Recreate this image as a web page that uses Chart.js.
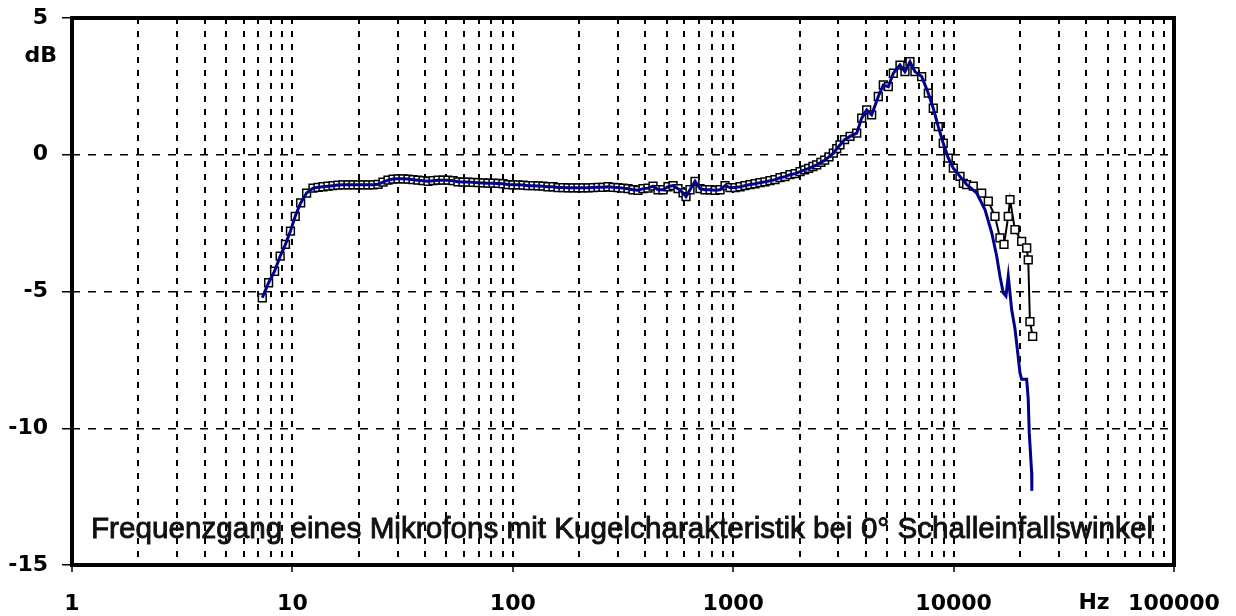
<!DOCTYPE html>
<html><head><meta charset="utf-8">
<script src="https://cdn.jsdelivr.net/npm/chart.js@4/dist/chart.umd.min.js"></script>
<style>html,body{margin:0;padding:0;background:#fff}#wrap{width:1236px;height:616px}</style>
</head><body><div id="wrap"><canvas id="c" width="1236" height="616"></canvas></div>
<script>
// Shared part of both measurements (Hz, dB)
const commonHz = [7.3,7.8,8.3,8.8,9.3,9.8,10.3,10.9,11.6,12.4,13.07,13.77,14.51,15.29,16.1,16.97,17.88,18.83,19.84,20.91,22.03,23.21,24.46,25.77,27.15,28.61,30.14,31.76,33.46,35.26,37.15,39.14,41.23,43.45,45.78,48.23,50.82,53.55,56.42,59.43,62.62,65.98,69.52,73.25,77.18,81.32,85.66,90.27,95.1,100.2,105.6,111.3,117.2,123.5,130.1,137.1,144.4,152.2,160.4,169,178,187.6,197.6,208.2,219.4,231.2,243.6,256.6,270.3,284.9,300.2,316.2,333.2,351.1,369.9,389.7,410.6,432.7,455.9,480.3,506.1,533.3,561.8,592,610.8,636.8,671,707,744.9,784.8,827,871.3,918.1,967.2,1019,1074,1131,1192,1256,1323,1394,1469,1547,1631,1718,1810,1907,2010,2110,2200,2300,2393,2500,2600,2720,2846,2950,3052,3200,3389,3634,3828,4033,4249,4553,4799,5057,5327,5711,6016,6339,6677,7164,7677,8087,8522,8977,9460,9970,10690];
const commonDb = [-5.23,-4.68,-4.26,-3.71,-3.28,-2.79,-2.25,-1.76,-1.4,-1.22,-1.19,-1.17,-1.15,-1.13,-1.11,-1.1,-1.1,-1.1,-1.1,-1.1,-1.1,-1.1,-1.08,-1,-0.93,-0.89,-0.88,-0.88,-0.89,-0.91,-0.93,-0.95,-0.97,-0.95,-0.93,-0.93,-0.93,-0.95,-0.99,-1,-1,-1.01,-1.02,-1.03,-1.04,-1.04,-1.05,-1.06,-1.09,-1.1,-1.1,-1.11,-1.13,-1.13,-1.14,-1.15,-1.17,-1.17,-1.2,-1.2,-1.21,-1.21,-1.21,-1.21,-1.21,-1.2,-1.19,-1.19,-1.17,-1.19,-1.2,-1.22,-1.24,-1.28,-1.3,-1.24,-1.22,-1.15,-1.28,-1.28,-1.17,-1.13,-1.24,-1.39,-1.53,-1.28,-0.97,-1.24,-1.28,-1.28,-1.3,-1.28,-1.13,-1.2,-1.2,-1.17,-1.13,-1.09,-1.06,-1.02,-0.99,-0.95,-0.91,-0.84,-0.8,-0.73,-0.69,-0.62,-0.55,-0.5,-0.43,-0.37,-0.28,-0.2,-0.08,0.06,0.22,0.36,0.55,0.67,0.79,1.34,1.64,1.46,2.13,2.55,2.49,2.98,3.28,3.04,3.4,3.04,2.86,2.25,1.7,1.03,0.42,-0.12,-0.49,-0.79];
// Black (with markers) high-frequency tail
const blackTailHz = [11070,11460,12280,13410,14370,15410,16230,16930,17700,18030,18980,20360,21460,21810,22200,22850];
const blackTailDb = [-1.05,-1.09,-1.15,-1.40,-1.70,-2.25,-3.04,-3.28,-2.25,-1.64,-2.74,-3.17,-3.41,-3.84,-6.10,-6.64];
// Blue high-frequency tail
const blueTailHz = [11460,12730,13890,14900,15690,16230,16800,17280,17700,18340,18980,19310,20000,20360,21460,21810,22040,22600,22650];
const blueTailDb = [-1.09,-1.40,-2.01,-2.86,-3.71,-4.44,-5.05,-5.17,-4.44,-5.66,-6.35,-6.87,-7.97,-8.21,-8.21,-8.94,-10.16,-11.62,-12.29];

const yTickValues = [5,0,-5,-10,-15];
const xDecades = [1,10,100,1000,10000,100000];
const titleText = "Frequenzgang eines Mikrofons mit Kugelcharakteristik bei 0° Schalleinfallswinkel";
const yUnit = "dB";
const xUnit = "Hz";

const toPts = (hz, db) => hz.map((f, i) => ({x: f, y: db[i]}));
const blackPts = toPts(commonHz.concat(blackTailHz), commonDb.concat(blackTailDb));
const bluePts = toPts(commonHz.concat(blueTailHz), commonDb.concat(blueTailDb));

const isDecade = v => xDecades.some(d => Math.abs(v - d) < 1e-6 * d);
const lblFont = {family: "'DejaVu Sans', sans-serif", size: 22, weight: 'bold'};

const decor = {
  id: 'decor',
  afterDraw(chart) {
    const {ctx, chartArea: a} = chart;
    ctx.save();
    ctx.strokeStyle = '#000';
    ctx.lineWidth = 4;
    ctx.strokeRect(a.left, a.top, a.right - a.left, a.bottom - a.top);
    ctx.fillStyle = '#000';
    ctx.font = "bold 22px 'DejaVu Sans', sans-serif";
    ctx.textAlign = 'right';
    ctx.textBaseline = 'middle';
    ctx.fillText(yUnit, 57, 56);
    ctx.textAlign = 'center';
    ctx.fillText(xUnit, 1094, 603);
    // title inside plot
    ctx.font = "30px 'Liberation Sans Narrow', 'Liberation Sans', Arial, sans-serif";
    ctx.textAlign = 'left';
    ctx.textBaseline = 'alphabetic';
    const w = ctx.measureText(titleText).width;
    const target = 1062;
    ctx.translate(91, 538);
    ctx.scale(target / w, 1);
    ctx.fillStyle = '#111';
    ctx.strokeStyle = '#111';
    ctx.lineWidth = 0.9;
    ctx.fillText(titleText, 0, 0);
    ctx.strokeText(titleText, 0, 0);
    ctx.restore();
  }
};

new Chart(document.getElementById('c'), {
  type: 'line',
  data: {
    datasets: [
      {data: bluePts, borderColor: '#00008b', borderWidth: 3, pointRadius: 0, tension: 0, order: 0, fill: false},
      {data: blackPts, borderColor: '#000', borderWidth: 2, pointStyle: 'rect', pointRadius: 5.5,
       pointBorderWidth: 1.5, pointBorderColor: '#000', pointBackgroundColor: '#fff', tension: 0, order: 1, fill: false}
    ]
  },
  options: {
    responsive: false,
    animation: false,
    devicePixelRatio: 1,
    layout: {padding: {top: 18, right: 62, left: 0, bottom: 0}},
    plugins: {legend: {display: false}, tooltip: {enabled: false}},
    scales: {
      x: {
        type: 'logarithmic', min: 1, max: 100000,
        afterBuildTicks(scale) {
          const t = [];
          for (let e = 0; e < 5; e++) for (let d = 1; d < 10; d++) t.push({value: d * Math.pow(10, e)});
          t.push({value: 100000});
          scale.ticks = t;
        },
        afterFit(scale) { scale.height = 51; scale.paddingLeft = 0; scale.paddingRight = 0; },
        ticks: {autoSkip: false, maxRotation: 0, minRotation: 0, padding: 19, color: '#000', font: lblFont,
          callback: (v) => isDecade(v) ? String(Math.round(v)) : ''},
        grid: {
          color: c => (c.tick && (c.tick.value === 1 || c.tick.value === 100000)) ? 'rgba(0,0,0,0)' : '#000',
          lineWidth: 2,
          tickColor: c => (c.tick && isDecade(c.tick.value)) ? '#000' : 'rgba(0,0,0,0)',
          tickLength: 7, tickWidth: 1.5, drawTicks: true
        },
        border: {display: false, dash: [6, 7]}
      },
      y: {
        type: 'linear', min: -15, max: 5,
        afterBuildTicks(scale) { scale.ticks = yTickValues.map(v => ({value: v})); },
        afterFit(scale) { scale.width = 72; scale.paddingTop = 0; scale.paddingBottom = 0; },
        ticks: {padding: 14, color: '#000', font: lblFont, callback: v => String(v)},
        grid: {
          color: c => (c.tick && (c.tick.value === 5 || c.tick.value === -15)) ? 'rgba(0,0,0,0)' : '#000',
          lineWidth: 1.5, tickColor: '#000', tickLength: 10, tickWidth: 1.5
        },
        border: {display: false, dash: [8, 8]}
      }
    }
  },
  plugins: [decor]
});
</script></body></html>
